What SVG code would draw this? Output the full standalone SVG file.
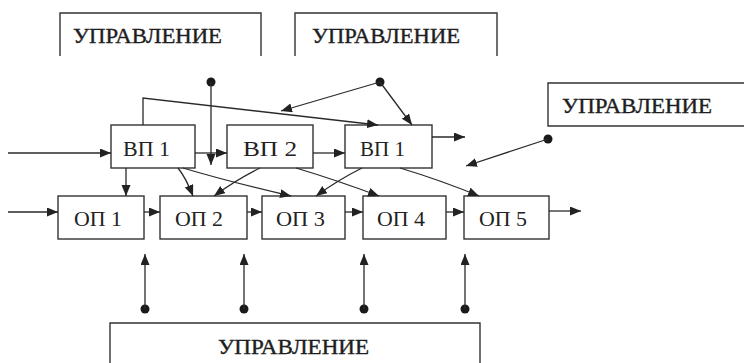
<svg xmlns="http://www.w3.org/2000/svg" width="744" height="363" viewBox="0 0 744 363">
<defs>
<marker id="ah" markerUnits="userSpaceOnUse" markerWidth="12" markerHeight="10" refX="11" refY="4.5" orient="auto">
<path d="M0,0 L11,4.5 L0,9 z" fill="#222"/>
</marker>
<style>
.box{fill:#fff;stroke:#333;stroke-width:1.4}
.open{fill:none;stroke:#333;stroke-width:1.4}
.ln{fill:none;stroke:#2a2a2a;stroke-width:1.3}
.ar{fill:none;stroke:#2a2a2a;stroke-width:1.3;marker-end:url(#ah)}
.dot{fill:#1a1a1a}
.lbl{font-family:"Liberation Serif","Times New Roman",serif;font-size:20px;fill:#1e1e1e;stroke:#1e1e1e;stroke-width:0.35}
.nd{font-family:"Liberation Serif","Times New Roman",serif;font-size:22px;fill:#222}
</style>
</defs>
<rect width="744" height="363" fill="#fff"/>

<g id="upr1">
<path class="open" d="M60,56 V13 H261 V56"/>
<text class="lbl" x="73" y="43" textLength="149" lengthAdjust="spacingAndGlyphs">УПРАВЛЕНИЕ</text>
</g>
<g id="upr2">
<path class="open" d="M295,56 V13 H497 V56"/>
<text class="lbl" x="312" y="43" textLength="148" lengthAdjust="spacingAndGlyphs">УПРАВЛЕНИЕ</text>
</g>
<g id="upr3">
<path class="open" d="M746,83 H548 V126 H746"/>
<text class="lbl" x="562" y="113" textLength="150" lengthAdjust="spacingAndGlyphs">УПРАВЛЕНИЕ</text>
</g>
<g id="upr4">
<path class="open" d="M110,365 V323 H480 V365"/>
<text class="lbl" x="218" y="354" textLength="151" lengthAdjust="spacingAndGlyphs">УПРАВЛЕНИЕ</text>
</g>

<g id="vp1">
<rect class="box" x="111" y="125" width="84" height="43"/>
<text class="nd" x="123" y="156" textLength="47" lengthAdjust="spacingAndGlyphs">ВП 1</text>
</g>
<g id="vp2">
<rect class="box" x="227" y="125" width="86" height="43"/>
<text class="nd" x="243" y="156" textLength="54" lengthAdjust="spacingAndGlyphs">ВП 2</text>
</g>
<g id="vp3">
<rect class="box" x="345" y="125" width="87" height="43"/>
<text class="nd" x="360" y="156" textLength="45" lengthAdjust="spacingAndGlyphs">ВП 1</text>
</g>

<g id="op1">
<rect class="box" x="58" y="196" width="86" height="43"/>
<text class="nd" x="74" y="226" textLength="48" lengthAdjust="spacingAndGlyphs">ОП 1</text>
</g>
<g id="op2">
<rect class="box" x="160" y="196" width="87" height="43"/>
<text class="nd" x="175" y="226" textLength="48" lengthAdjust="spacingAndGlyphs">ОП 2</text>
</g>
<g id="op3">
<rect class="box" x="262" y="196" width="83" height="43"/>
<text class="nd" x="276" y="226" textLength="49" lengthAdjust="spacingAndGlyphs">ОП 3</text>
</g>
<g id="op4">
<rect class="box" x="363" y="196" width="83" height="43"/>
<text class="nd" x="377" y="226" textLength="48" lengthAdjust="spacingAndGlyphs">ОП 4</text>
</g>
<g id="op5">
<rect class="box" x="464" y="196" width="85" height="43"/>
<text class="nd" x="479" y="226" textLength="48" lengthAdjust="spacingAndGlyphs">ОП 5</text>
</g>

<g id="connectors">
<line class="ar" x1="8" y1="153" x2="111" y2="153"/>
<line class="ar" x1="195" y1="153" x2="227" y2="153"/>
<line class="ar" x1="313" y1="153" x2="345" y2="153"/>
<line class="ar" x1="432" y1="137" x2="465" y2="137"/>
<line class="ar" x1="8" y1="212" x2="58" y2="212"/>
<line class="ar" x1="144" y1="212" x2="160" y2="212"/>
<line class="ar" x1="247" y1="212" x2="262" y2="212"/>
<line class="ar" x1="345" y1="212" x2="363" y2="212"/>
<line class="ar" x1="446" y1="212" x2="464" y2="212"/>
<line class="ar" x1="549" y1="211" x2="581" y2="211"/>
<line class="ar" x1="126" y1="168" x2="126" y2="196"/>
<path class="ar" d="M178,168 Q186,178 193,196"/>
<path class="ar" d="M183,168 Q230,182 291,196"/>
<path class="ar" d="M260,168 Q236,180 214,196"/>
<path class="ar" d="M296,168 Q336,180 379,196"/>
<path class="ar" d="M362,168 Q338,180 316,196"/>
<path class="ar" d="M400,168 Q440,180 479,196"/>
<circle class="dot" cx="211" cy="82" r="4.5"/>
<line class="ar" x1="211" y1="82" x2="211" y2="165"/>
<path class="ar" d="M143,125 V98 L378,125"/>
<circle class="dot" cx="380" cy="82" r="4.5"/>
<line class="ar" x1="380" y1="82" x2="281" y2="111"/>
<line class="ar" x1="380" y1="82" x2="412" y2="125"/>
<circle class="dot" cx="548" cy="139" r="4.5"/>
<line class="ar" x1="548" y1="139" x2="466" y2="166"/>
<circle class="dot" cx="145" cy="309" r="4.5"/>
<line class="ar" x1="145" y1="309" x2="145" y2="254"/>
<circle class="dot" cx="244" cy="309" r="4.5"/>
<line class="ar" x1="244" y1="309" x2="244" y2="254"/>
<circle class="dot" cx="364" cy="309" r="4.5"/>
<line class="ar" x1="364" y1="309" x2="364" y2="254"/>
<circle class="dot" cx="465" cy="309" r="4.5"/>
<line class="ar" x1="465" y1="309" x2="465" y2="254"/>
</g>
</svg>
